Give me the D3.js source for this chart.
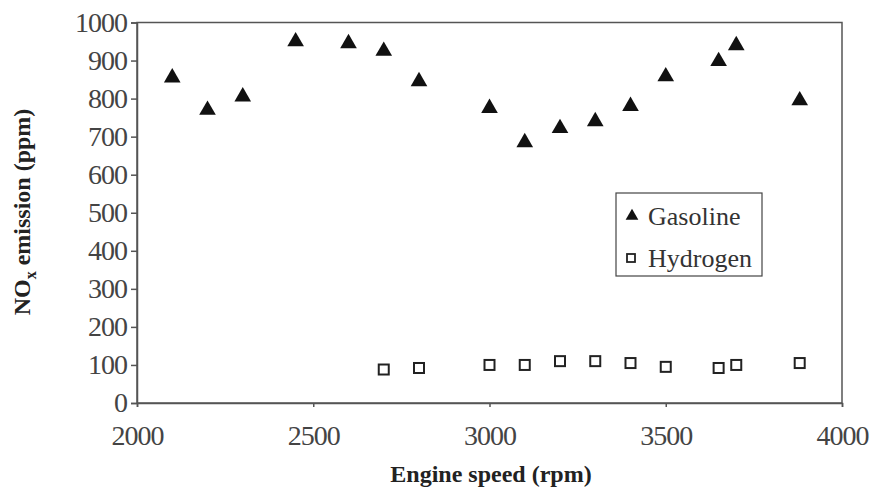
<!DOCTYPE html>
<html><head><meta charset="utf-8">
<script src="https://cdn.jsdelivr.net/npm/d3@7"></script>
<style>body{margin:0;background:#fff}</style>
</head><body>
<svg id="c" width="874" height="489"></svg>
<script>
const gasSpeed = [2100,2200,2300,2450,2600,2700,2800,3000,3100,3200,3300,3400,3500,3650,3700,3880];
const gasNox   = [855,770,805,950,945,925,845,775,685,722,740,780,858,898,940,795];
const h2Speed  = [2700,2800,3000,3100,3200,3300,3400,3500,3650,3700,3880];
const h2Nox    = [88,92,100,100,110,110,105,95,92,100,105];
const xTicks = [2000,2500,3000,3500,4000];
const yTicks = d3.range(0,1001,100);

const svg = d3.select('#c');
const font = '"Liberation Serif", "DejaVu Serif", serif';
const x = d3.scaleLinear().domain([2000,4000]).range([137,842]);
const y = d3.scaleLinear().domain([0,1000]).range([403,22.5]);

// frame
svg.append('rect').attr('x',137).attr('y',22.5).attr('width',705).attr('height',380.5)
  .attr('fill','none').attr('stroke','#555').attr('stroke-width',1.5);

const yAxis = svg.append('g').attr('transform','translate(137,0)')
  .call(d3.axisLeft(y).tickValues(yTicks).tickFormat(d3.format('d')).tickSize(6).tickPadding(4));
const xAxis = svg.append('g').attr('transform','translate(0,403)')
  .call(d3.axisBottom(x).tickValues(xTicks).tickFormat(d3.format('d')).tickSize(4).tickPadding(18));
[xAxis,yAxis].forEach(a=>{
  a.attr('font-family',null).attr('font-size',null);
  a.select('.domain').attr('stroke','#555').attr('stroke-width',1.5);
  a.selectAll('line').attr('stroke','#555').attr('stroke-width',1.5);
  a.selectAll('text').style('font-family',font).style('font-size','28px').style('letter-spacing','-1px').attr('fill','#444');
});

const tri = d3.symbol().type(d3.symbolTriangle).size(120);
svg.append('g').selectAll('path').data(gasSpeed).join('path')
  .attr('d',tri).attr('fill','#111')
  .attr('transform',(d,i)=>`translate(${x(d)},${y(gasNox[i])})`);
svg.append('g').selectAll('rect').data(h2Speed).join('rect')
  .attr('x',d=>x(d)-5).attr('y',(d,i)=>y(h2Nox[i])-5).attr('width',10).attr('height',10)
  .attr('fill','#fff').attr('stroke','#222').attr('stroke-width',2);

// legend
const lg = svg.append('g');
lg.append('rect').attr('x',616).attr('y',193).attr('width',146).attr('height',83)
  .attr('fill','#fff').attr('stroke','#444').attr('stroke-width',1.2);
lg.append('path').attr('d',d3.symbol().type(d3.symbolTriangle).size(70)).attr('fill','#111')
  .attr('transform','translate(632,216)');
lg.append('rect').attr('x',627).attr('y',254).attr('width',8).attr('height',8)
  .attr('fill','#fff').attr('stroke','#222').attr('stroke-width',1.8);
lg.append('text').attr('x',648).attr('y',225).text('Gasoline');
lg.append('text').attr('x',648).attr('y',267).text('Hydrogen');
lg.selectAll('text').style('font-family',font).style('font-size','26px').attr('fill','#333');

svg.append('text').attr('x',491).attr('y',482).attr('text-anchor','middle')
  .style('font-family',font).style('font-size','24px').attr('font-weight','bold').attr('fill','#222')
  .text('Engine speed (rpm)');
const yl = svg.append('text').attr('transform','translate(30,212) rotate(-90)').attr('text-anchor','middle')
  .style('font-family',font).style('font-size','24px').attr('font-weight','bold').attr('fill','#222');
yl.append('tspan').text('NO');
yl.append('tspan').style('font-size','16px').attr('dy',6).text('x');
yl.append('tspan').attr('dy',-6).text(' emission (ppm)');
</script>
</body></html>
